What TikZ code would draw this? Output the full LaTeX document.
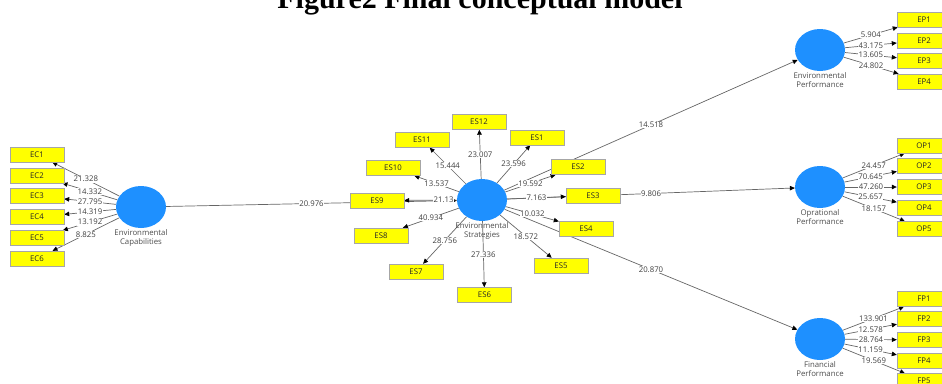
\documentclass[tikz,border=0pt]{standalone}
\usepackage{fontspec}
\setmainfont{Liberation Serif}
\newfontfamily\plsfont{Open Sans}
\usetikzlibrary{arrows.meta,shapes.geometric,backgrounds}
\definecolor{plsblue}{RGB}{30,144,255}
\definecolor{plsyellow}{RGB}{255,255,0}
\tikzset{
    latent/.style={ellipse,fill=plsblue,minimum width=50pt,minimum height=42pt,inner sep=0pt},
    lvname/.style={align=center,inner sep=0.5pt,label distance=1pt,text=black!70,font=\plsfont\fontsize{7.8}{9}\selectfont},
    indicator/.style={rectangle,fill=plsyellow,draw=black!35,line width=0.4pt,minimum width=54pt,minimum height=15pt,inner sep=0pt,text=black!85,font=\plsfont\fontsize{7.8}{9}\selectfont},
    link/.style={draw=black!60,line width=0.7pt,-{Triangle[length=5pt,width=4.5pt,color=black]}},
    coef/.style={fill=white,inner sep=0.5pt,text=black!75,font=\plsfont\fontsize{7.8}{9}\selectfont}
}

\begin{document}
\begin{tikzpicture}[x=1pt,y=-1pt]
    \useasboundingbox (0,0) rectangle (942,383);
    \clip (0,0) rectangle (942,383);
    \node (title) at (480,8) [anchor=base,font=\bfseries\fontsize{30}{32}\selectfont] {Figure2 Final conceptual model};

    % latent variables
    \node (ec) at (141,207) [latent,label={[lvname]below:Environmental\\Capabilities}] {};
    \node (es) at (482,200) [latent,label={[lvname]below:Environmental\\Strategies}] {};
    \node (ep) at (820,50) [latent,label={[lvname]below:Environmental\\Performance}] {};
    \node (op) at (820,187) [latent,label={[lvname]below:Oprational\\Performance}] {};
    \node (fp) at (820,339) [latent,label={[lvname]below:Financial\\Performance}] {};

    % indicators
    \node (ec1) at (37,154.5) [indicator] {EC1};
    \node (ec2) at (37,175.5) [indicator] {EC2};
    \node (ec3) at (37,196) [indicator] {EC3};
    \node (ec4) at (37,217) [indicator] {EC4};
    \node (ec5) at (37,238) [indicator] {EC5};
    \node (ec6) at (37,258.5) [indicator] {EC6};

    \node (es1) at (537,137.5) [indicator] {ES1};
    \node (es2) at (578,167) [indicator] {ES2};
    \node (es3) at (593,195.5) [indicator] {ES3};
    \node (es4) at (586,229) [indicator] {ES4};
    \node (es5) at (561,265.5) [indicator] {ES5};
    \node (es6) at (484.5,295) [indicator] {ES6};
    \node (es7) at (416,271.5) [indicator] {ES7};
    \node (es8) at (381,235.5) [indicator] {ES8};
    \node (es9) at (377,200.5) [indicator] {ES9};
    \node (es10) at (393,168) [indicator] {ES10};
    \node (es11) at (422,140) [indicator] {ES11};
    \node (es12) at (479,122) [indicator] {ES12};

    \node (ep1) at (924,19.5) [indicator] {EP1};
    \node (ep2) at (924,40.5) [indicator] {EP2};
    \node (ep3) at (924,60.5) [indicator] {EP3};
    \node (ep4) at (924,81.5) [indicator] {EP4};

    \node (op1) at (924,145.5) [indicator] {OP1};
    \node (op2) at (924,166) [indicator] {OP2};
    \node (op3) at (924,187) [indicator] {OP3};
    \node (op4) at (924,207.5) [indicator] {OP4};
    \node (op5) at (924,229) [indicator] {OP5};

    \node (fp1) at (924,299) [indicator] {FP1};
    \node (fp2) at (924,319) [indicator] {FP2};
    \node (fp3) at (924,340) [indicator] {FP3};
    \node (fp4) at (924,360.5) [indicator] {FP4};
    \node (fp5) at (924,381) [indicator] {FP5};

    \begin{scope}[on background layer]
        % structural paths
        \path [link] (ec) -- node [coef] {20.976} (es);
        \path [link] (es) -- node [coef] {14.518} (ep);
        \path [link] (es) -- node [coef] {9.806} (op);
        \path [link] (es) -- node [coef] {20.870} (fp);

        % outer loadings
        \path [link] (ec) -- node [coef] {21.328} (ec1);
        \path [link] (ec) -- node [coef] {14.332} (ec2);
        \path [link] (ec) -- node [coef] {27.795} (ec3);
        \path [link] (ec) -- node [coef] {14.319} (ec4);
        \path [link] (ec) -- node [coef] {13.192} (ec5);
        \path [link] (ec) -- node [coef] {8.825} (ec6);

        \path [link] (es) -- node [coef] {23.596} (es1);
        \path [link] (es) -- node [coef] {19.592} (es2);
        \path [link] (es) -- node [coef] {7.163} (es3);
        \path [link] (es) -- node [coef] {10.032} (es4);
        \path [link] (es) -- node [coef] {18.572} (es5);
        \path [link] (es) -- node [coef] {27.336} (es6);
        \path [link] (es) -- node [coef] {28.756} (es7);
        \path [link] (es) -- node [coef] {40.934} (es8);
        \path [link] (es) -- node [coef,pos=0.25] {21.13} (es9);
        \path [link] (es) -- node [coef] {13.537} (es10);
        \path [link] (es) -- node [coef] {15.444} (es11);
        \path [link] (es) -- node [coef] {23.007} (es12);

        \path [link] (ep) -- node [coef] {5.904} (ep1);
        \path [link] (ep) -- node [coef] {43.175} (ep2);
        \path [link] (ep) -- node [coef] {13.605} (ep3);
        \path [link] (ep) -- node [coef] {24.802} (ep4);

        \path [link] (op) -- node [coef] {24.457} (op1);
        \path [link] (op) -- node [coef] {70.645} (op2);
        \path [link] (op) -- node [coef] {47.260} (op3);
        \path [link] (op) -- node [coef] {25.657} (op4);
        \path [link] (op) -- node [coef] {18.157} (op5);

        \path [link] (fp) -- node [coef] {133.901} (fp1);
        \path [link] (fp) -- node [coef] {12.578} (fp2);
        \path [link] (fp) -- node [coef] {28.764} (fp3);
        \path [link] (fp) -- node [coef] {11.159} (fp4);
        \path [link] (fp) -- node [coef] {19.569} (fp5);
    \end{scope}
\end{tikzpicture}
\end{document}
